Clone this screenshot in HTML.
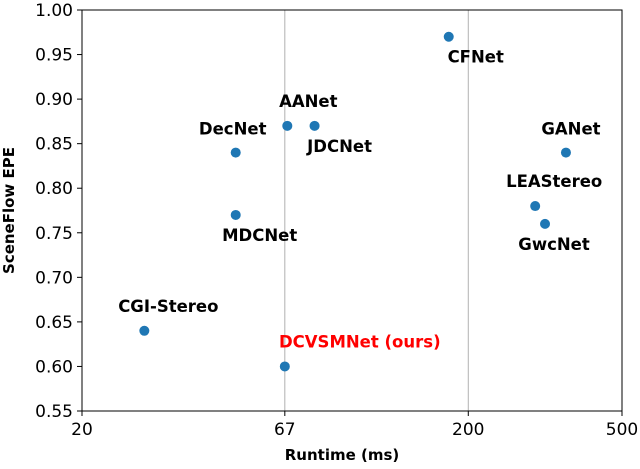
<!DOCTYPE html>
<html><head><meta charset="utf-8"><style>
body{margin:0;background:#fff}
svg text{font-family:"DejaVu Sans","Liberation Sans",sans-serif}
</style></head><body>
<svg id="chart" width="640" height="464" xmlns="http://www.w3.org/2000/svg"></svg>
<script>
const names=["CGI-Stereo","DecNet","MDCNet","AANet","JDCNet","CFNet","LEAStereo","GwcNet","GANet","DCVSMNet (ours)"];
const runtimes=[29,50,50,68,80,178,298,316,358,67];
const epes=[0.64,0.84,0.77,0.87,0.87,0.97,0.78,0.76,0.84,0.60];
const labelDx=[24,-3,24,21,25,27,19,9,5,75];
const labelDy=[-25,-24,20,-25,20,20,-25,20,-24,-25];
const xTicks=[20,67,200,500];
const yTicks=[0.55,0.60,0.65,0.70,0.75,0.80,0.85,0.90,0.95,1.00];
const L=82,R=622,T=10,B=411;
const xs=v=>L+(R-L)*Math.log(v/20)/Math.log(500/20);
const ys=v=>B-(B-T)*(v-0.55)/(1.0-0.55);
const svg=document.getElementById('chart');
const NS="http://www.w3.org/2000/svg";
function mk(tag,attrs,txt){const e=document.createElementNS(NS,tag);for(const k in attrs)e.setAttribute(k,attrs[k]);if(txt!==undefined)e.textContent=txt;svg.appendChild(e);return e;}
xTicks.slice(1,3).forEach(t=>{const g=mk('line',{x1:xs(t),x2:xs(t),y1:T,y2:B,stroke:'#b0b0b0','stroke-width':1});

});
const frame=mk('rect',{x:L,y:T,width:R-L,height:B-T,fill:'none',stroke:'#000','stroke-width':1});


xTicks.forEach(t=>{mk('line',{x1:xs(t),x2:xs(t),y1:B,y2:B+5,stroke:'#000'});
const e=mk('text',{x:xs(t),y:B+24,'text-anchor':'middle','font-size':17,fill:'#000'},String(t));

});
yTicks.forEach(t=>{mk('line',{x1:L-5,x2:L,y1:ys(t),y2:ys(t),stroke:'#000'});
const e=mk('text',{x:L-9,y:ys(t)+6,'text-anchor':'end','font-size':17,fill:'#000'},t.toFixed(2));

});
const xt=mk('text',{x:(L+R)/2-10,y:460,'text-anchor':'middle','font-size':15,'font-weight':'bold'},'Runtime (ms)');


const yt=mk('text',{x:0,y:0,'text-anchor':'middle','font-size':15,'font-weight':'bold',transform:`translate(14,${(T+B)/2}) rotate(-90)`},'SceneFlow EPE');


names.forEach((n,i)=>{
const x=xs(runtimes[i]),y=ys(epes[i]);
const c=mk('circle',{cx:x,cy:y,r:5,fill:'#1f77b4'});


const red=i===names.length-1;
const t=mk('text',{x:x+labelDx[i],y:y+labelDy[i]+6,'text-anchor':'middle','font-size':16.5,'font-weight':'bold',fill:red?'#ff0000':'#000'},n);


});
</script>
</body></html>
